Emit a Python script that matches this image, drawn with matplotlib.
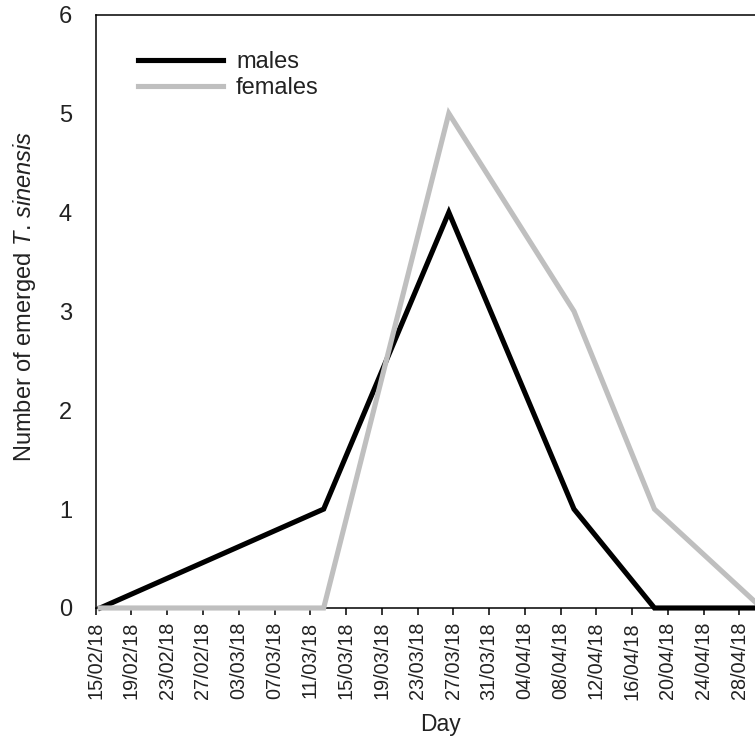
import matplotlib
matplotlib.use('Agg')
import matplotlib.pyplot as plt
import pandas as pd

plt.rcParams['font.family'] = ['Liberation Sans', 'DejaVu Sans']
plt.rcParams['mathtext.fontset'] = 'custom'
plt.rcParams['mathtext.rm'] = 'Liberation Sans'
plt.rcParams['mathtext.it'] = 'Liberation Sans:italic'

# data
dates = ['15/02/18', '12/03/18', '26/03/18', '09/04/18', '18/04/18', '30/04/18']
males = [0, 1, 4, 1, 0, 0]
females = [0, 0, 5, 3, 1, 0]
tick_start, tick_end = '15/02/18', '28/04/18'
yticks = [0, 1, 2, 3, 4, 5, 6]

W, H = 755, 742
fig = plt.figure(figsize=(W / 100, H / 100), dpi=100)
ax_left, ax_bottom = 95.7 / W, 1 - 608 / H
ax_w, ax_h = 670.5 / W, (608 - 14.5) / H
ax = fig.add_axes([ax_left, ax_bottom, ax_w, ax_h])

x = pd.to_datetime(dates, format='%d/%m/%y') + pd.Timedelta(hours=12)  # plotted between tick marks
ax.plot(x, males, color='black', lw=3.7, solid_joinstyle='miter', label='males', zorder=3, clip_on=False)
ax.plot(x, females, color='#bfbfbf', lw=3.7, solid_joinstyle='miter', label='females', zorder=4, clip_on=False)

t0 = pd.to_datetime(tick_start, format='%d/%m/%y')
t1 = pd.to_datetime(tick_end, format='%d/%m/%y')
ticks = pd.date_range(t0, t1, freq='4D')
ax.set_xlim(t0, t1 + pd.Timedelta(days=3))
ax.set_xticks(ticks)
ax.set_xticklabels([d.strftime('%d/%m/%y') for d in ticks], rotation=90, fontsize=14.3)
ax.set_ylim(0, 6)
ax.set_yticks(yticks)
ax.set_yticklabels([str(v) for v in yticks], fontsize=17, color='#222222')

ax.tick_params(axis='x', direction='out', length=5, width=1.1, pad=5, colors='black')
ax.tick_params(axis='x', labelcolor='#222222')
ax.tick_params(axis='y', length=0, pad=17)
for s in ax.spines.values():
    s.set_linewidth(1.1)
    s.set_color('black')

ax.set_xlabel('Day', fontsize=16.5, color='#222222')
ax.xaxis.set_label_coords((441 - 95.7) / 670.5, (608 - 713) / 593.5)
ax.xaxis.label.set_va('top')
ax.set_ylabel('Number of emerged $\\it{T}$. $\\it{sinensis}$', fontsize=17, color='#222222')
ax.yaxis.set_label_coords((38 - 95.7) / 670.5, (608 - 296) / 593.5)

leg = ax.legend(loc='upper left', bbox_to_anchor=(138 / W, 1 - 51 / H), bbox_transform=fig.transFigure,
                frameon=False, fontsize=17, handlelength=3.6, handletextpad=0.55,
                borderpad=0, borderaxespad=0, labelspacing=0.17)
for t in leg.get_texts():
    t.set_color('#222222')

fig.savefig('out.png', dpi=100)
